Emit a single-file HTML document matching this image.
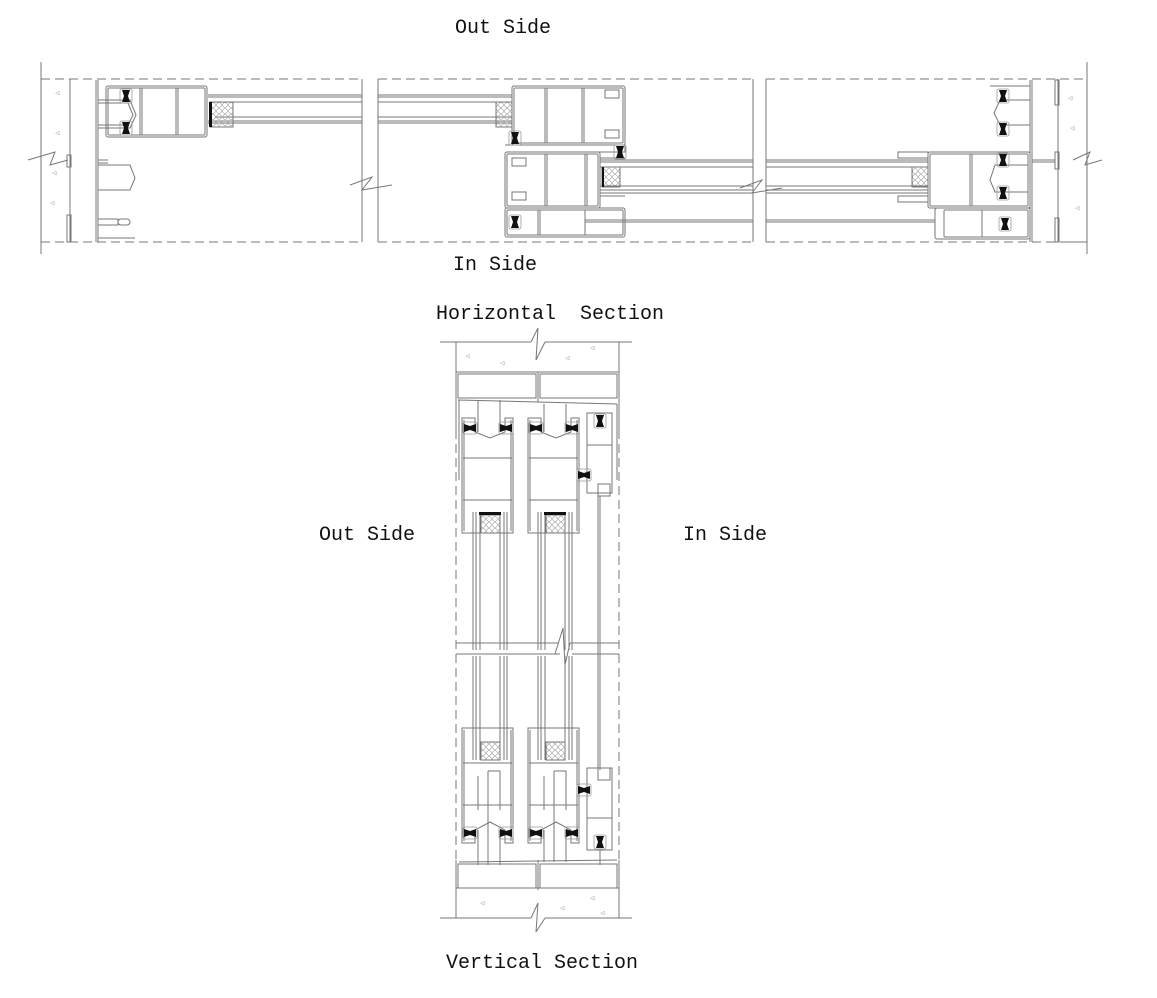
<!DOCTYPE html>
<html><head><meta charset="utf-8"><style>
html,body{margin:0;padding:0;background:#fff;width:1157px;height:998px;overflow:hidden}
svg{display:block}
text{font-family:"Liberation Mono",monospace;font-size:20px;fill:#111}
</style></head><body>
<svg width="1157" height="998" viewBox="0 0 1157 998" xmlns="http://www.w3.org/2000/svg">
<defs>
<g id="gk"><path d="M-4,-6 L4,-6 L2,0 L4,6 L-4,6 L-2,0 Z" fill="#111"/><rect x="-6" y="-7" width="12" height="14" fill="none" stroke="#999" stroke-width="0.8" rx="2"/></g>
<g id="gkh"><path d="M-6,-4 L-6,4 L0,2 L6,4 L6,-4 L0,-2 Z" fill="#111"/><rect x="-7" y="-6" width="14" height="12" fill="none" stroke="#999" stroke-width="0.8" rx="2"/></g>
<pattern id="hc" width="6" height="6" patternUnits="userSpaceOnUse"><circle cx="3" cy="3" r="2.4" fill="none" stroke="#999" stroke-width="0.6"/></pattern>
</defs>
<g fill="none" stroke="#777" stroke-width="1">
<line x1="41" y1="62" x2="41" y2="254"/>
<line x1="1087" y1="62" x2="1087" y2="254"/>
<g stroke-dasharray="9,5">
<line x1="41" y1="79" x2="362" y2="79"/><line x1="378" y1="79" x2="753" y2="79"/><line x1="766" y1="79" x2="1087" y2="79"/>
<line x1="41" y1="242" x2="362" y2="242"/><line x1="378" y1="242" x2="753" y2="242"/><line x1="766" y1="242" x2="1087" y2="242"/>
</g>
<line x1="362" y1="79" x2="362" y2="242"/><line x1="378" y1="79" x2="378" y2="242"/>
<line x1="753" y1="79" x2="753" y2="242"/><line x1="766" y1="79" x2="766" y2="242"/>
<polyline points="28,160 55,152 50,165 68,160"/>
<polyline points="1073,160 1090,152 1085,165 1102,160"/>
<polyline points="350,185 372,177 362,190 392,185"/>
<polyline points="740,188 762,180 752,193 782,188"/>
<line x1="70" y1="79" x2="70" y2="242"/>
<line x1="96" y1="80" x2="96" y2="242"/><line x1="98" y1="80" x2="98" y2="242"/>
<rect x="67" y="155" width="4" height="12"/><rect x="67" y="215" width="4" height="27"/>
<line x1="98" y1="160" x2="108" y2="160"/><line x1="98" y1="163" x2="108" y2="163"/>
<path d="M98,100 L130,100 L136,115 L130,128 L98,128"/>
<path d="M98,103 L128,103 L133,115 L128,125 L98,125"/>
<path d="M98,165 L130,165 L135,178 L130,190 L98,190"/>
<path d="M98,219 L118,219 L118,225 L98,225"/><rect x="118" y="219" width="12" height="6" rx="3"/>
<line x1="98" y1="238" x2="135" y2="238"/>
<rect x="106" y="86" width="101" height="51" rx="2"/>
<rect x="108" y="88" width="97" height="47" rx="1"/>
<line x1="140" y1="88" x2="140" y2="135"/><line x1="142" y1="88" x2="142" y2="135"/>
<line x1="176" y1="88" x2="176" y2="135"/><line x1="178" y1="88" x2="178" y2="135"/>
<line x1="208" y1="95" x2="362" y2="95"/><line x1="208" y1="97" x2="362" y2="97"/>
<line x1="208" y1="121" x2="362" y2="121"/><line x1="208" y1="123" x2="362" y2="123"/>
<line x1="378" y1="95" x2="512" y2="95"/><line x1="378" y1="97" x2="512" y2="97"/>
<line x1="378" y1="121" x2="512" y2="121"/><line x1="378" y1="123" x2="512" y2="123"/>
<line x1="215" y1="102" x2="362" y2="102"/><line x1="215" y1="117" x2="362" y2="117"/>
<line x1="378" y1="102" x2="512" y2="102"/><line x1="378" y1="117" x2="512" y2="117"/>
<rect x="210" y="102" width="23" height="25" fill="url(#hc)"/>
<rect x="496" y="102" width="16" height="25" fill="url(#hc)"/>
<rect x="512" y="86" width="113" height="59" rx="2"/>
<rect x="514" y="88" width="109" height="55" rx="1"/>
<line x1="545" y1="88" x2="545" y2="143"/><line x1="547" y1="88" x2="547" y2="143"/>
<line x1="582" y1="88" x2="582" y2="143"/><line x1="584" y1="88" x2="584" y2="143"/>
<rect x="605" y="90" width="14" height="8"/><rect x="605" y="130" width="14" height="8"/>
<path d="M505,145 L625,145 L625,152 L590,152"/>
<rect x="505" y="152" width="95" height="56" rx="2"/>
<rect x="507" y="154" width="91" height="52" rx="1"/>
<line x1="545" y1="154" x2="545" y2="206"/><line x1="547" y1="154" x2="547" y2="206"/>
<line x1="585" y1="154" x2="585" y2="206"/><line x1="587" y1="154" x2="587" y2="206"/>
<rect x="512" y="158" width="14" height="8"/><rect x="512" y="192" width="14" height="8"/>
<line x1="600" y1="160" x2="753" y2="160"/><line x1="600" y1="162" x2="753" y2="162"/>
<line x1="600" y1="190" x2="753" y2="190"/><line x1="600" y1="193" x2="753" y2="193"/>
<line x1="766" y1="160" x2="928" y2="160"/><line x1="766" y1="162" x2="928" y2="162"/>
<line x1="766" y1="190" x2="928" y2="190"/><line x1="766" y1="193" x2="928" y2="193"/>
<line x1="600" y1="167" x2="753" y2="167"/><line x1="600" y1="186" x2="753" y2="186"/>
<line x1="766" y1="167" x2="928" y2="167"/><line x1="766" y1="186" x2="928" y2="186"/>
<rect x="602" y="167" width="18" height="20" fill="url(#hc)"/>
<rect x="912" y="167" width="16" height="20" fill="url(#hc)"/>
<path d="M600,158 L625,158 M600,196 L625,196"/>
<path d="M898,152 L928,152 L928,158 L898,158 Z"/><path d="M898,196 L928,196 L928,202 L898,202 Z"/>
<rect x="505" y="208" width="120" height="29" rx="2"/>
<rect x="507" y="210" width="116" height="25" rx="1"/>
<line x1="538" y1="210" x2="538" y2="235"/><line x1="540" y1="210" x2="540" y2="235"/>
<path d="M585,210 L585,235 M585,220 L753,220 M585,222 L753,222"/>
<path d="M766,220 L935,220 M766,222 L935,222"/>
<rect x="928" y="152" width="102" height="56" rx="2"/>
<rect x="930" y="154" width="98" height="52" rx="1"/>
<line x1="970" y1="154" x2="970" y2="206"/><line x1="972" y1="154" x2="972" y2="206"/>
<path d="M1028,165 L995,165 L990,180 L995,192 L1028,192"/>
<rect x="935" y="208" width="95" height="31" rx="2"/>
<rect x="944" y="210" width="84" height="27" rx="1"/>
<line x1="982" y1="210" x2="982" y2="237"/>
<path d="M990,86 L1030,86 L1030,100 L1000,100 L994,113 L1000,125 L1030,125"/>
<path d="M1030,80 L1030,242"/><path d="M1032,80 L1032,242"/>
<line x1="1032" y1="160" x2="1055" y2="160"/><line x1="1032" y1="162" x2="1055" y2="162"/>
<line x1="1058" y1="79" x2="1058" y2="242"/>
<rect x="1055" y="80" width="4" height="25"/><rect x="1055" y="152" width="4" height="17"/><rect x="1055" y="218" width="4" height="24"/>
<line x1="1060" y1="242" x2="1087" y2="242"/>
</g>
<use href="#gk" x="126" y="96"/><use href="#gk" x="126" y="128"/>
<use href="#gk" x="515" y="138"/><use href="#gk" x="620" y="152"/>
<use href="#gk" x="515" y="222"/>
<use href="#gk" x="1003" y="96"/><use href="#gk" x="1003" y="129"/>
<use href="#gk" x="1003" y="160"/><use href="#gk" x="1003" y="193"/>
<use href="#gk" x="1005" y="224"/>
<rect x="209" y="102" width="3" height="25" fill="#111"/>
<rect x="602" y="167" width="2" height="20" fill="#111"/>
<g>
<text x="55" y="95" style="font-size:7px;fill:#888">◁</text><text x="52" y="175" style="font-size:7px;fill:#888">◁</text>
<text x="55" y="135" style="font-size:7px;fill:#888">◁</text><text x="50" y="205" style="font-size:7px;fill:#888">◁</text>
<text x="1068" y="100" style="font-size:7px;fill:#888">◁</text><text x="1075" y="210" style="font-size:7px;fill:#888">◁</text>
<text x="1070" y="130" style="font-size:7px;fill:#888">◁</text>
</g>

<g fill="none" stroke="#777" stroke-width="1">
<line x1="440" y1="342" x2="531" y2="342"/><line x1="545" y1="342" x2="632" y2="342"/>
<polyline points="531,342 538,328 536,360 545,342"/>
<line x1="456" y1="342" x2="456" y2="430"/><line x1="619" y1="342" x2="619" y2="430"/>
<line x1="456" y1="372" x2="619" y2="372"/>
<line x1="456" y1="430" x2="456" y2="870" stroke-dasharray="9,5"/>
<line x1="619" y1="430" x2="619" y2="870" stroke-dasharray="9,5"/>
<rect x="458" y="374" width="78" height="24"/><rect x="540" y="374" width="77" height="24"/>
<line x1="538" y1="372" x2="538" y2="402"/>
<line x1="458" y1="400" x2="617" y2="404"/>
<line x1="459" y1="400" x2="459" y2="480"/><line x1="617" y1="404" x2="617" y2="480"/>
<path d="M462,418 L475,418 L475,432 L490,438 L505,432 L505,418 L513,418 L513,533 L462,533 Z"/>
<path d="M464,420 L464,531 M511,420 L511,531"/>
<line x1="463" y1="458" x2="512" y2="458"/><line x1="463" y1="500" x2="512" y2="500"/>
<line x1="478" y1="400" x2="478" y2="432"/><line x1="500" y1="400" x2="500" y2="432"/>
<path d="M528,418 L541,418 L541,432 L556,438 L571,432 L571,418 L579,418 L579,533 L528,533 Z"/>
<path d="M530,420 L530,531 M577,420 L577,531"/>
<line x1="529" y1="458" x2="578" y2="458"/><line x1="529" y1="500" x2="578" y2="500"/>
<line x1="544" y1="404" x2="544" y2="432"/><line x1="566" y1="404" x2="566" y2="432"/>
<rect x="587" y="413" width="25" height="80"/>
<line x1="587" y1="445" x2="612" y2="445"/>
<rect x="598" y="484" width="12" height="12"/>
<line x1="598" y1="496" x2="598" y2="770"/><line x1="600" y1="496" x2="600" y2="770"/>
<g>
<line x1="473" y1="512" x2="473" y2="650"/><line x1="476" y1="512" x2="476" y2="650"/>
<line x1="480" y1="515" x2="480" y2="650"/><line x1="500" y1="515" x2="500" y2="650"/>
<line x1="504" y1="512" x2="504" y2="650"/><line x1="507" y1="512" x2="507" y2="650"/>
<line x1="473" y1="656" x2="473" y2="760"/><line x1="476" y1="656" x2="476" y2="760"/>
<line x1="480" y1="656" x2="480" y2="760"/><line x1="500" y1="656" x2="500" y2="760"/>
<line x1="504" y1="656" x2="504" y2="760"/><line x1="507" y1="656" x2="507" y2="760"/>
<line x1="538" y1="512" x2="538" y2="650"/><line x1="541" y1="512" x2="541" y2="650"/>
<line x1="545" y1="515" x2="545" y2="650"/><line x1="565" y1="515" x2="565" y2="650"/>
<line x1="569" y1="512" x2="569" y2="650"/><line x1="572" y1="512" x2="572" y2="650"/>
<line x1="538" y1="656" x2="538" y2="760"/><line x1="541" y1="656" x2="541" y2="760"/>
<line x1="545" y1="656" x2="545" y2="760"/><line x1="565" y1="656" x2="565" y2="760"/>
<line x1="569" y1="656" x2="569" y2="760"/><line x1="572" y1="656" x2="572" y2="760"/>
</g>
<rect x="481" y="515" width="19" height="18" fill="url(#hc)"/>
<rect x="546" y="515" width="19" height="18" fill="url(#hc)"/>
<rect x="481" y="742" width="19" height="18" fill="url(#hc)"/>
<rect x="546" y="742" width="19" height="18" fill="url(#hc)"/>
<line x1="456" y1="643" x2="558" y2="643"/><line x1="570" y1="643" x2="619" y2="643"/>
<line x1="456" y1="654" x2="560" y2="654"/><line x1="572" y1="654" x2="619" y2="654"/>
<polyline points="555,654 563,628 565,665 570,643"/>
<path d="M462,728 L462,843 L475,843 L475,830 L490,822 L505,830 L505,843 L513,843 L513,728 Z"/>
<path d="M464,730 L464,841 M511,730 L511,841"/>
<line x1="463" y1="763" x2="512" y2="763"/><line x1="463" y1="805" x2="512" y2="805"/>
<path d="M478,776 L478,810 M488,771 L500,771 L500,810 M488,771 L488,865 M478,830 L478,865 M500,830 L500,865"/>
<path d="M528,728 L528,843 L541,843 L541,830 L556,822 L571,830 L571,843 L579,843 L579,728 Z"/>
<path d="M530,730 L530,841 M577,730 L577,841"/>
<line x1="529" y1="763" x2="578" y2="763"/><line x1="529" y1="805" x2="578" y2="805"/>
<path d="M544,776 L544,810 M554,771 L566,771 L566,810 M554,771 L554,862 M544,830 L544,862 M566,830 L566,862"/>
<rect x="587" y="768" width="25" height="82"/>
<rect x="598" y="768" width="12" height="12"/>
<line x1="587" y1="818" x2="612" y2="818"/>
<line x1="600" y1="850" x2="600" y2="865"/>
<line x1="459" y1="862" x2="617" y2="860"/>
<rect x="458" y="864" width="78" height="24"/><rect x="540" y="864" width="77" height="24"/>
<line x1="538" y1="860" x2="538" y2="890"/>
<line x1="456" y1="860" x2="456" y2="918"/><line x1="619" y1="860" x2="619" y2="918"/>
<line x1="456" y1="888" x2="619" y2="888"/>
<line x1="440" y1="918" x2="531" y2="918"/><line x1="545" y1="918" x2="632" y2="918"/>
<polyline points="531,918 538,903 536,932 545,918"/>
</g>
<use href="#gkh" x="470" y="428"/><use href="#gkh" x="506" y="428"/>
<use href="#gkh" x="536" y="428"/><use href="#gkh" x="572" y="428"/>
<use href="#gk" x="600" y="421"/><use href="#gkh" x="584" y="475"/>
<use href="#gkh" x="470" y="833"/><use href="#gkh" x="506" y="833"/>
<use href="#gkh" x="536" y="833"/><use href="#gkh" x="572" y="833"/>
<use href="#gk" x="600" y="842"/><use href="#gkh" x="584" y="790"/>
<rect x="479" y="512" width="22" height="3" fill="#111"/><rect x="544" y="512" width="22" height="3" fill="#111"/>
<g>
<text x="465" y="358" style="font-size:7px;fill:#888">◁</text><text x="590" y="350" style="font-size:7px;fill:#888">◁</text>
<text x="500" y="365" style="font-size:7px;fill:#888">◁</text><text x="565" y="360" style="font-size:7px;fill:#888">◁</text>
<text x="480" y="905" style="font-size:7px;fill:#888">◁</text><text x="560" y="910" style="font-size:7px;fill:#888">◁</text>
<text x="590" y="900" style="font-size:7px;fill:#888">◁</text><text x="600" y="915" style="font-size:7px;fill:#888">◁</text>
</g>
<text x="455" y="33">Out Side</text>
<text x="453" y="270">In Side</text>
<text x="436" y="319" xml:space="preserve">Horizontal  Section</text>
<text x="319" y="540">Out Side</text>
<text x="683" y="540">In Side</text>
<text x="446" y="968">Vertical Section</text>
</svg>
</body></html>
